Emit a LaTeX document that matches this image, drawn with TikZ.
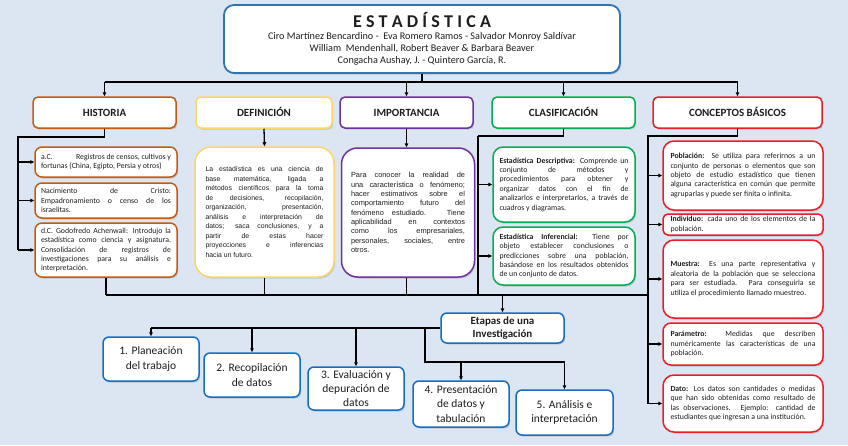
\documentclass[tikz,border=0pt]{standalone}
\usepackage{fontspec}
\setmainfont{Carlito}
\newfontfamily\arialf{Liberation Sans}
\usetikzlibrary{arrows.meta,shadows}
\definecolor{bgc}{RGB}{220,230,242}
\definecolor{tblue}{RGB}{46,117,182}
\definecolor{eblue}{RGB}{20,110,195}
\definecolor{corange}{RGB}{197,90,17}
\definecolor{cyellow}{RGB}{255,214,100}
\definecolor{cpurple}{RGB}{112,48,160}
\definecolor{cgreen}{RGB}{0,176,80}
\definecolor{cred}{RGB}{238,28,36}
\definecolor{txt}{RGB}{30,30,30}
\newcommand\nohy{\hyphenpenalty=10000\exhyphenpenalty=10000\tolerance=9999\emergencystretch=12pt\hbadness=10000}
\newcommand\lb{\linebreak}
\begin{document}
\begin{tikzpicture}[x=1pt,y=-1pt,
  shd/.style={drop shadow={shadow xshift=1.2pt,shadow yshift=-1.5pt,opacity=0.25,fill=black!60}},
  basebox/.style={draw,fill=white,line width=1.5pt,inner sep=0pt,text=txt,shd},
  headbox/.style={basebox,rounded corners=5pt,align=center,text height=7.6pt,text depth=0pt,font=\fontsize{11}{13}\selectfont\bfseries},
  smallbox/.style={basebox,rounded corners=7pt,align=justify,font=\fontsize{7.8}{9.4}\selectfont\nohy},
  arbox/.style={basebox,rounded corners=16pt,align=justify,font=\arialf\fontsize{6.9}{9.5}\selectfont\nohy},
  stepbox/.style={basebox,draw=eblue,rounded corners=6pt,align=center,font=\fontsize{11.5}{14.2}\selectfont},
  conn/.style={line width=1.3pt,black},
  arr/.style={conn,-{Triangle[length=4pt,width=3.6pt]}}
]
\fill[bgc] (0,0) rectangle (848,445);
\useasboundingbox (0,0) rectangle (848,445);

% title
\node[basebox,draw=tblue,line width=1.8pt,rounded corners=10pt,minimum width=396pt,minimum height=68pt,align=center] (title) at (422,39)
 {\fontsize{18}{20}\selectfont\bfseries E\kern4.2pt S\kern4.2pt T\kern4.2pt A\kern4.2pt D\kern4.2pt Í\kern4.2pt S\kern4.2pt T\kern4.2pt I\kern4.2pt C\kern4.2pt A\\[0.5pt]
  \fontsize{10.2}{12.6}\selectfont Ciro Martínez Bencardino -\ \ Eva Romero Ramos - Salvador Monroy Saldívar\\
  \fontsize{10.2}{12.6}\selectfont William\ \ Mendenhall, Robert Beaver \& Barbara Beaver\\
  \fontsize{10.2}{12.6}\selectfont Congacha Aushay, J. - Quintero García, R.};

% headers
\node[headbox,draw=corange,minimum width=143pt,minimum height=31pt] (hist) at (104.5,112.5) {HISTORIA};
\node[headbox,draw=cyellow,minimum width=136pt,minimum height=31pt] (defh) at (264,112.5) {DEFINICIÓN};
\node[headbox,draw=cpurple,minimum width=133pt,minimum height=31pt] (imph) at (406.5,112.5) {IMPORTANCIA};
\node[headbox,draw=cgreen,minimum width=143pt,minimum height=31pt] (clas) at (563.5,112.5) {CLASIFICACIÓN};
\node[headbox,draw=cred,minimum width=169pt,minimum height=31pt] (conc) at (737.5,112.5) {CONCEPTOS BÁSICOS};

% historia boxes
\node[smallbox,draw=corange,minimum width=142pt,minimum height=30pt,text width=130pt] (h1) at (106,162)
 {a.C.\hfill Registros de censos, cultivos y\lb fortunas (China, Egipto, Persia y otros)};
\node[smallbox,draw=corange,minimum width=142pt,minimum height=35pt,text width=130pt] (h2) at (106,200.5)
 {Nacimiento\hfill de\hfill Cristo:\lb Empadronamiento o censo de los\lb israelitas.};
\node[smallbox,draw=corange,minimum width=142pt,minimum height=54pt,text width=130pt] (h3) at (106,250)
 {d.C. Godofredo Achenwall: Introdujo la\lb estadística como ciencia y asignatura.\lb Consolidación de registros de\lb investigaciones para su análisis e\lb interpretación.};

% definicion / importancia
\node[arbox,draw=cyellow,minimum width=139pt,minimum height=130pt,text width=118pt] (def) at (264.5,212)
 {La estadística es una ciencia de\lb base matemática, ligada a\lb métodos científicos para la toma\lb de decisiones, recopilación,\lb organización, presentación,\lb análisis e interpretación de\lb datos; saca conclusiones, y a\lb partir de estas hacer\lb proyecciones e inferencias\lb hacia un futuro.};
\node[arbox,draw=cpurple,minimum width=133pt,minimum height=129pt,text width=114pt,font=\arialf\fontsize{7.4}{9.3}\selectfont\nohy] (imp) at (408,212.5)
 {Para conocer la realidad de\lb una característica o fenómeno;\lb hacer estimativos sobre el\lb comportamiento futuro del\lb fenómeno estudiado. Tiene\lb aplicabilidad en contextos\lb como los empresariales,\lb personales, sociales, entre\lb otros.};

% clasificacion
\node[smallbox,draw=cgreen,rounded corners=10pt,minimum width=142pt,minimum height=75pt,text width=129pt] (desc) at (564,184.5)
 {\textbf{Estadística Descriptiva:} Comprende un\lb conjunto de métodos y\lb procedimientos para obtener y\lb organizar datos con el fin de\lb analizarlos e interpretarlos, a través de\lb cuadros y diagramas.};
\node[smallbox,draw=cgreen,rounded corners=10pt,minimum width=142pt,minimum height=58pt,text width=129pt] (inf) at (564,256)
 {\textbf{Estadística Inferencial:} Tiene por\lb objeto establecer conclusiones o\lb predicciones sobre una población,\lb basándose en los resultados obtenidos\lb de un conjunto de datos.};

% conceptos
\node[smallbox,draw=cred,rounded corners=11pt,minimum width=160pt,minimum height=69pt,text width=145pt] (pob) at (743,175.5)
 {\textbf{Población:} Se utiliza para referirnos a un\lb conjunto de personas o elementos que son\lb objeto de estudio estadístico que tienen\lb alguna característica en común que permite\lb agruparlas y puede ser finita o infinita.};
\node[smallbox,draw=cred,rounded corners=5pt,minimum width=160pt,minimum height=21pt,text width=145pt] (ind) at (743,224.5)
 {\textbf{Individuo:} cada uno de los elementos de la\lb población.};
\node[smallbox,draw=cred,rounded corners=11pt,minimum width=160pt,minimum height=78pt,text width=145pt] (mue) at (743,279)
 {\textbf{Muestra:} Es una parte representativa y\lb aleatoria de la población que se selecciona\lb para ser estudiada. Para conseguirla se\lb utiliza el procedimiento llamado muestreo.};
\node[smallbox,draw=cred,rounded corners=8pt,minimum width=160pt,minimum height=42pt,text width=145pt] (par) at (743,344)
 {\textbf{Parámetro:} Medidas que describen\lb numéricamente las características de una\lb población.};
\node[smallbox,draw=cred,rounded corners=11pt,minimum width=160pt,minimum height=57pt,text width=145pt] (dat) at (743,403.5)
 {\textbf{Dato:} Los datos son cantidades o medidas\lb que han sido obtenidas como resultado de\lb las observaciones. Ejemplo: cantidad de\lb estudiantes que ingresan a una institución.};

% etapas
\node[stepbox,minimum width=123pt,minimum height=30pt,font=\fontsize{11}{13.5}\selectfont\bfseries] (etap) at (502.5,328) {Etapas de una\\Investigación};
\node[stepbox,minimum width=96pt,minimum height=44pt] (e1) at (151,359) {1. Planeación\\del trabajo};
\node[stepbox,minimum width=96pt,minimum height=44pt] (e2) at (252,375) {2. Recopilación\\de datos};
\node[stepbox,minimum width=96pt,minimum height=43pt] (e3) at (356,388.5) {3. Evaluación y\\depuración de\\datos};
\node[stepbox,minimum width=96pt,minimum height=46pt] (e4) at (461,404) {4. Presentación\\de datos y\\tabulación};
\node[stepbox,minimum width=97pt,minimum height=45pt] (e5) at (564.5,412.5) {5. Análisis e\\interpretación};

% connectors: title to headers
\coordinate (tb) at (0,82);
\draw[conn] (title.south) -- (title.south |- tb);
\draw[conn] (hist.north |- tb) -- (conc.north |- tb);
\draw[arr] (hist.north |- tb) -- (hist.north);
\draw[arr] (imph.north |- tb) -- (imph.north);
\draw[arr] (clas.north |- tb) -- (clas.north);
\draw[arr] (conc.north |- tb) -- (conc.north);

% historia
\coordinate (hl) at (18,137);
\draw[conn] (hist.south) -- (hist.south |- hl) -- (hl) -- (hl |- h3.west);
\draw[arr] (hl |- h1.west) -- (h1.west);
\draw[arr] (hl |- h2.west) -- (h2.west);
\draw[arr] (hl |- h3.west) -- (h3.west);

% definicion / importancia
\draw[arr] (defh.south) -- (def.north);
\draw[arr] (imph.south) -- (imph.south |- imp.north);

% clasificacion
\coordinate (cl) at (478,136);
\draw[conn] (clas.south) -- (clas.south |- cl) -- (cl);
\coordinate (bl) at (0,295);
\draw[conn] (cl) -- (cl |- bl);
\draw[arr] (cl |- desc.west) -- (desc.west);
\draw[arr] (cl |- inf.west) -- (inf.west);

% conceptos
\coordinate (kl) at (648,136);
\draw[conn] (conc.south) -- (conc.south |- kl) -- (kl) -- (kl |- dat.west);
\draw[arr] (kl |- pob.west) -- (pob.west);
\draw[arr] (kl |- ind.west) -- (ind.west);
\draw[arr] (kl |- mue.west) -- (mue.west);
\draw[arr] (kl |- par.west) -- (par.west);
\draw[arr] (kl |- dat.west) -- (dat.west);

% bottom collector
\draw[conn] (h3.south) -- (h3.south |- bl);
\draw[conn] (def.south) -- (def.south |- bl);
\draw[conn] (imph.south |- imp.south) -- (imph.south |- bl);
\draw[conn] (h3.south |- bl) -- (kl |- bl);
\draw[arr] (etap.north |- bl) -- (etap.north);

% etapas
\draw[conn] (etap.west) -- (e1.north |- etap.west);
\draw[arr] (e1.north |- etap.west) -- (e1.north);
\draw[arr] (e2.north |- etap.west) -- (e2.north);
\draw[arr] (e3.north |- etap.west) -- (e3.north);
\coordinate (el) at (425,362);
\draw[conn] (el |- etap.west) -- (el) -- (e5.north |- el);
\draw[arr] (e4.north |- el) -- (e4.north);
\draw[arr] (e5.north |- el) -- (e5.north);
\end{tikzpicture}
\end{document}
